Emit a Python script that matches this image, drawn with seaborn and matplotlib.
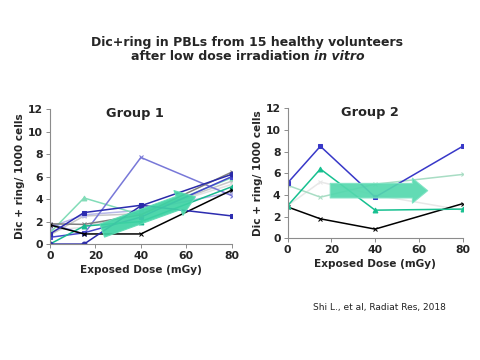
import matplotlib
matplotlib.use("Agg")
import matplotlib.pyplot as plt
from matplotlib.patches import FancyArrowPatch
import seaborn as sns

doses = [0, 15, 40, 80]

# Group 1 (one list per volunteer)
g1_navy = [0.0, 0.0, 3.4, 6.2]
g1_navy_sq = [0.9, 2.8, 3.45, 2.5]
g1_purple = [1.8, 0.9, 7.7, 4.3]
g1_teal = [0.0, 1.6, 2.0, 5.1]
g1_light_teal = [1.0, 4.1, 2.6, 5.9]
g1_gray = [1.8, 1.75, 2.6, 6.4]
g1_black = [1.7, 0.9, 0.9, 4.8]
g1_light_gray = [0.8, 2.5, 2.7, 5.6]
g1_lavender = [1.5, 2.6, 3.0, 4.6]
g1_pale = [1.2, 1.5, 2.8, 5.3]
g1_blue = [0.6, 1.0, 2.4, 6.0]

# Group 2
g2_blue = [5.1, 8.5, 3.8, 8.5]
g2_teal = [3.0, 6.4, 2.6, 2.7]
g2_light_green = [4.9, 3.8, 5.0, 5.9]
g2_black = [2.9, 1.8, 0.85, 3.2]
g2_pale = [3.0, 5.2, 4.0, 2.6]

y_ticks = [0, 2, 4, 6, 8, 10, 12]
x_ticks = [0, 20, 40, 60, 80]

group1 = [
    (g1_pale, "#e2e2e2", "x"),
    (g1_light_gray, "#c8c8c8", "x"),
    (g1_lavender, "#b8b8e8", "s"),
    (g1_light_teal, "#82dcb8", "^"),
    (g1_purple, "#7878d8", "x"),
    (g1_blue, "#4646cc", "s"),
    (g1_gray, "#7f7f7f", "x"),
    (g1_teal, "#18b88f", "^"),
    (g1_black, "#000000", "x"),
    (g1_navy_sq, "#2c2cb0", "s"),
    (g1_navy, "#2a2aa8", "o"),
]
group2 = [
    (g2_pale, "#e8e8e8", "x"),
    (g2_light_green, "#a8ddc4", "x"),
    (g2_black, "#000000", "x"),
    (g2_teal, "#17c090", "^"),
    (g2_blue, "#3838c8", "s"),
]

sns.set_style("white")
plt.rcParams["font.family"] = ["DejaVu Sans"]

fig = plt.figure(figsize=(4.8, 3.6), dpi=100)
ax1 = fig.add_axes([0.104, 0.322, 0.379, 0.375])
ax2 = fig.add_axes([0.599, 0.338, 0.365, 0.361])


def draw_group(ax, series, label):
    for vals, color, marker in series:
        sns.lineplot(x=doses, y=vals, ax=ax, color=color, marker=marker,
                     markersize=3.5, markeredgecolor=color, linewidth=1.1,
                     legend=False)
    ax.set_xlim(0, 80)
    ax.set_ylim(0, 12)
    ax.set_xticks(x_ticks)
    ax.set_yticks(y_ticks)
    for s in ["top", "right"]:
        ax.spines[s].set_visible(False)
    for s in ["left", "bottom"]:
        ax.spines[s].set_color("#8c8c8c")
        ax.spines[s].set_linewidth(0.8)
    ax.tick_params(direction="out", length=3, width=0.7, color="#8c8c8c",
                   labelsize=7.8, pad=2, left=True, bottom=True)
    for t in ax.get_xticklabels() + ax.get_yticklabels():
        t.set_fontweight("bold")
    ax.set_xlabel("Exposed Dose (mGy)", fontsize=7.6, fontweight="bold", labelpad=3)
    ax.set_ylabel("Dic + ring/ 1000 cells", fontsize=7.6, fontweight="bold", labelpad=2)
    ax.text(0.47, 0.97, label, transform=ax.transAxes, ha="center", va="center",
            fontsize=9.3, fontweight="bold")


draw_group(ax1, group1, "Group 1")
draw_group(ax2, group2, "Group 2")

# trend arrows
ax1.add_patch(FancyArrowPatch((23, 1.2), (64, 4.2), mutation_scale=1,
                              arrowstyle="simple,head_length=13,head_width=19,tail_width=10",
                              fc="#3fd3a4", ec="#5fdcb4", lw=0.8, alpha=0.92,
                              zorder=10, shrinkA=0, shrinkB=0))
ax2.add_patch(FancyArrowPatch((19.5, 4.4), (64, 4.4), mutation_scale=1,
                              arrowstyle="simple,head_length=11,head_width=18,tail_width=10.5",
                              fc="#55d8ae", ec="#7ee3c3", lw=0.8, alpha=0.92,
                              zorder=10, shrinkA=0, shrinkB=0))

# title
fig.text(0.515, 0.881, "Dic+ring in PBLs from 15 healthy volunteers",
         ha="center", va="center", fontsize=9, fontweight="bold")
t1 = fig.text(0, 0.842, "after low dose irradiation ", ha="left", va="center",
              fontsize=9, fontweight="bold")
t2 = fig.text(0, 0.842, "in vitro", ha="left", va="center",
              fontsize=9, fontweight="bold", style="italic")
fig.canvas.draw()
r = fig.canvas.get_renderer()
w1 = t1.get_window_extent(r).width / fig.bbox.width
w2 = t2.get_window_extent(r).width / fig.bbox.width
x0 = 0.516 - (w1 + w2) / 2
t1.set_x(x0)
t2.set_x(x0 + w1)

fig.text(0.652, 0.147, "Shi L., et al, Radiat Res, 2018", ha="left", va="center",
         fontsize=6.5, color="#222222")

fig.savefig("out.png", dpi=100)
